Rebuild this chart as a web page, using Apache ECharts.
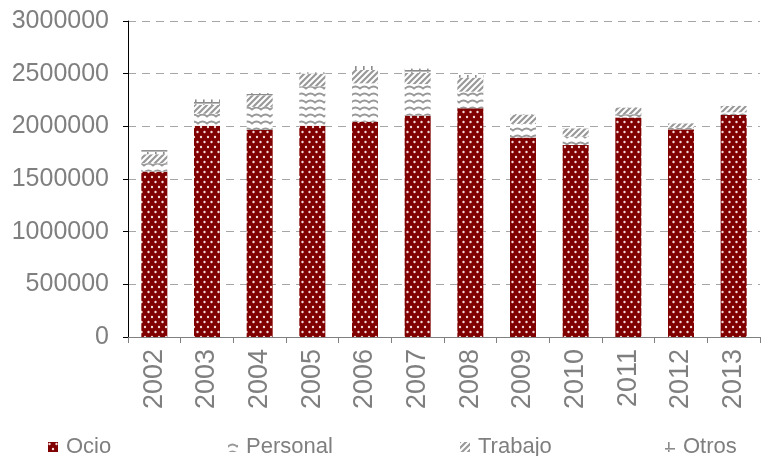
<!DOCTYPE html>
<html>
<head>
<meta charset="utf-8">
<script src="https://cdn.jsdelivr.net/npm/echarts@6/dist/echarts.min.js"></script>
<style>
  html, body { margin: 0; padding: 0; background: #fff; }
  #chart { width: 764px; height: 456px; }
</style>
</head>
<body>
<div id="chart"></div>
<script>
const years = ['2002', '2003', '2004', '2005', '2006', '2007', '2008', '2009', '2010', '2011', '2012', '2013']
const ocio = [1570000, 2005000, 1965000, 2005000, 2044000, 2101000, 2171000, 1893000, 1823000, 2085000, 1971000, 2108000]
const personal = [80000, 115000, 220000, 375000, 364000, 300000, 158000, 130000, 79000, 30000, 16000, 25000]
const trabajo = [85000, 85000, 110000, 120000, 127000, 107000, 133000, 89000, 79000, 63000, 41000, 60000]
const otros = [40000, 50000, 20000, 12000, 38000, 40000, 25000, 5000, 3000, 3000, 2000, 2000]

const FONT = '"Liberation Sans", Arial, sans-serif'
const TEXT = '#7f7f7f'

// small canvas tiles used as fill patterns
function tile(w, h, draw) {
  const c = document.createElement('canvas')
  c.width = w
  c.height = h
  const ctx = c.getContext('2d')
  draw(ctx)
  return { image: c, repeat: 'repeat' }
}

const ocioFill = tile(7, 10, (ctx) => {
  ctx.fillStyle = '#800000'
  ctx.fillRect(0, 0, 7, 10)
  ctx.fillStyle = '#f5dcdc'
  ctx.beginPath(); ctx.arc(1.5, 2, 1.2, 0, Math.PI * 2); ctx.fill()
  ctx.beginPath(); ctx.arc(5, 7, 1.2, 0, Math.PI * 2); ctx.fill()
})

const personalFill = tile(9, 7, (ctx) => {
  ctx.fillStyle = '#fff'
  ctx.fillRect(0, 0, 9, 7)
  ctx.strokeStyle = '#999'
  ctx.lineWidth = 1.8
  ctx.beginPath()
  ctx.moveTo(-1, 5.5)
  ctx.quadraticCurveTo(4.5, -0.5, 10, 5.5)
  ctx.stroke()
})

const trabajoFill = tile(6, 6, (ctx) => {
  ctx.fillStyle = '#fff'
  ctx.fillRect(0, 0, 6, 6)
  ctx.strokeStyle = '#999'
  ctx.lineWidth = 2.2
  ctx.beginPath()
  ctx.moveTo(-1, 7); ctx.lineTo(7, -1)
  ctx.moveTo(-4, 4); ctx.lineTo(4, -4)
  ctx.moveTo(2, 10); ctx.lineTo(10, 2)
  ctx.stroke()
})

const otrosFill = tile(8, 8, (ctx) => {
  ctx.fillStyle = '#fff'
  ctx.fillRect(0, 0, 8, 8)
  ctx.fillStyle = '#8c8c8c'
  ctx.fillRect(3, 0, 1.6, 6)
  ctx.fillRect(0, 6, 8, 1.6)
})

function bar(name, data, fill) {
  return {
    name: name,
    type: 'bar',
    stack: 'total',
    barWidth: 26,
    data: data,
    itemStyle: { color: fill },
    emphasis: { disabled: true },
  }
}

function legendAt(name, left) {
  return {
    data: [name],
    left: left,
    top: 431,
    itemWidth: 10,
    itemHeight: 10,
    icon: 'rect',
    textStyle: { fontFamily: FONT, fontSize: 22, color: TEXT, padding: [0, 0, 0, 3] },
  }
}

const chart = echarts.init(document.getElementById('chart'), null, { renderer: 'canvas' })

chart.setOption({
  animation: false,
  backgroundColor: '#fff',
  grid: { left: 128, right: 4, top: 21, bottom: 119, containLabel: false },
  legend: [
    legendAt('Ocio', 43),
    legendAt('Personal', 223),
    legendAt('Trabajo', 455),
    legendAt('Otros', 660),
  ],
  xAxis: {
    type: 'category',
    data: years,
    axisLine: { lineStyle: { color: '#808080', width: 1 } },
    axisTick: { show: true, length: 6, lineStyle: { color: '#808080' } },
    axisLabel: {
      rotate: 90,
      margin: 12,
      fontFamily: FONT,
      fontSize: 27,
      color: TEXT,
    },
  },
  yAxis: {
    type: 'value',
    min: 0,
    max: 3000000,
    interval: 500000,
    axisLine: { show: true, lineStyle: { color: '#000', width: 1 } },
    axisTick: { show: true, length: 5, lineStyle: { color: '#000' } },
    axisLabel: {
      margin: 19,
      fontFamily: FONT,
      fontSize: 25,
      color: TEXT,
      formatter: (value) => String(value),
    },
    splitLine: {
      lineStyle: { color: '#a6a6a6', type: [8, 6], width: 1 },
    },
  },
  series: [
    bar('Ocio', ocio, ocioFill),
    bar('Personal', personal, personalFill),
    bar('Trabajo', trabajo, trabajoFill),
    bar('Otros', otros, otrosFill),
  ],
})
</script>
</body>
</html>
